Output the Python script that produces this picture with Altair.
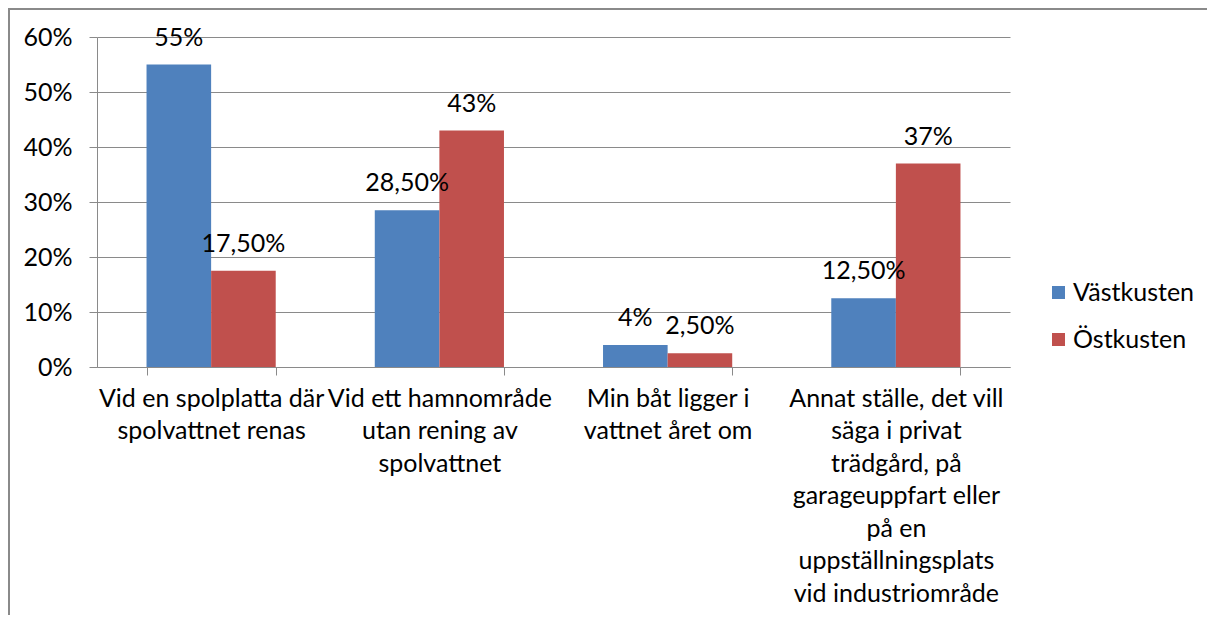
import json
import altair as alt
import pandas as pd

categories = [
    "Vid en spolplatta där spolvattnet renas",
    "Vid ett hamnområde utan rening av spolvattnet",
    "Min båt ligger i vattnet året om",
    "Annat ställe, det vill säga i privat trädgård, på garageuppfart eller på en uppställningsplats vid industriområde",
]
category_lines = [
    ["Vid en spolplatta där", "spolvattnet renas"],
    ["Vid ett hamnområde", "utan rening av", "spolvattnet"],
    ["Min båt ligger i", "vattnet året om"],
    ["Annat ställe, det vill", "säga i privat", "trädgård, på", "garageuppfart eller",
     "på en", "uppställningsplats", "vid industriområde"],
]
series = ["Västkusten", "Östkusten"]
vastkusten = [0.55, 0.285, 0.04, 0.125]
ostkusten = [0.175, 0.43, 0.025, 0.37]
vastkusten_labels = ["55%", "28,50%", "4%", "12,50%"]
ostkusten_labels = ["17,50%", "43%", "2,50%", "37%"]
colors = ["#4F81BD", "#C0504D"]
y_ticks = [0, 0.1, 0.2, 0.3, 0.4, 0.5, 0.6]

rows = []
for s, vals, labs in [(series[0], vastkusten, vastkusten_labels), (series[1], ostkusten, ostkusten_labels)]:
    for c, v, l in zip(categories, vals, labs):
        rows.append({"kategori": c, "serie": s, "andel": v, "etikett": l})
df = pd.DataFrame(rows)

label_expr = "datum.label"
for cat, lines in reversed(list(zip(categories, category_lines))):
    label_expr = f"datum.value === {json.dumps(cat, ensure_ascii=False)} ? {json.dumps(lines, ensure_ascii=False)} : ({label_expr})"

FONT = "Lato"
FS = 25
GRAY = "#8a8a8a"

x_enc = alt.X(
    "kategori:N",
    sort=categories,
    scale=alt.Scale(paddingInner=0.434, paddingOuter=0.217),
    axis=alt.Axis(
        title=None, labelAngle=0, tickBand="extent", tickSize=8, tickColor=GRAY,
        domainColor=GRAY, labelExpr=label_expr, labelLineHeight=32.5, labelLimit=400,
        labelPadding=11, labelFontSize=FS, labelColor="black", labelFont=FONT, grid=False,
    ),
)
y_enc = alt.Y(
    "andel:Q",
    scale=alt.Scale(domain=[0, 0.6], nice=False),
    axis=alt.Axis(
        title=None, format=".0%", values=y_ticks, grid=True, gridColor=GRAY,
        domainColor=GRAY, tickColor=GRAY, tickSize=8, labelPadding=17,
        labelFontSize=FS, labelColor="black", labelFont=FONT,
    ),
)
color_enc = alt.Color(
    "serie:N",
    scale=alt.Scale(domain=series, range=colors),
    legend=alt.Legend(
        orient="none", legendX=949, legendY=243, title=None, symbolType="square",
        symbolSize=169, symbolStrokeWidth=0, labelFontSize=FS, labelFont=FONT,
        labelColor="black", rowPadding=21, labelOffset=2,
    ),
)
xoff = alt.XOffset("serie:N", sort=series)

bars = alt.Chart(df).mark_bar().encode(x=x_enc, y=y_enc, color=color_enc, xOffset=xoff)
texts = alt.Chart(df).mark_text(
    dy=-19, baseline="alphabetic", fontSize=FS, font=FONT, color="black"
).encode(x=alt.X("kategori:N", sort=categories), y="andel:Q", xOffset=xoff, text="etikett:N")

border_data = alt.Data(values=[{"k": 1}])
left_border = alt.Chart(border_data).mark_rule(color=GRAY, strokeWidth=2).encode(
    x=alt.value(-88), y=alt.value(-29), y2=alt.value(578)
)
top_border = alt.Chart(border_data).mark_rule(color=GRAY, strokeWidth=2).encode(
    x=alt.value(-89), x2=alt.value(1110), y=alt.value(-28)
)

chart = alt.layer(bars, texts, left_border, top_border).properties(
    width=913, height=330,
    autosize=alt.AutoSizeParams(type="none"),
    padding={"left": 89, "top": 29, "right": 197, "bottom": 248},
).configure(font=FONT).configure_view(stroke=None)

chart.save("out.html", embed_options={"renderer": "svg", "actions": False})
